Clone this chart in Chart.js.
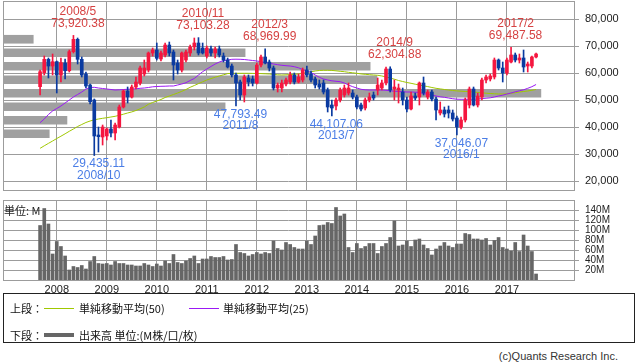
<!DOCTYPE html>
<html>
<head>
<meta charset="utf-8">
<script src="https://cdn.jsdelivr.net/npm/chart.js@4.4.1/dist/chart.umd.min.js"></script>
<style>
html,body{margin:0;padding:0;background:#fff;}
#wrap{position:relative;width:638px;height:362px;overflow:hidden;background:#fff;}
#c1{position:absolute;left:0;top:0;}
#c2{position:absolute;left:0;top:195px;}
.unit{position:absolute;left:4px;top:203px;font:11px "Noto Sans CJK JP",sans-serif;line-height:14px;color:#222;}
#legend{position:absolute;left:3px;top:293px;width:630px;height:48px;border:1px solid #222;font:11px "Noto Sans CJK JP",sans-serif;color:#111;}
#legend span{position:absolute;line-height:14px;white-space:nowrap;}
#legend i{position:absolute;display:block;}
.copy{position:absolute;right:20px;top:349px;font:11px "Liberation Sans",Arial,sans-serif;color:#333;line-height:14px;}
</style>
</head>
<body>
<div id="wrap">
  <canvas id="c1" width="638" height="195"></canvas>
  <canvas id="c2" width="638" height="100"></canvas>
  <div class="unit">単位: M</div>
  <div id="legend">
    <span style="left:6px;top:7px;">上段：</span>
    <i style="left:40px;top:14px;width:30px;height:1px;background:#a0c800;"></i>
    <span style="left:75px;top:7px;">単純移動平均(50)</span>
    <i style="left:185px;top:14px;width:30px;height:1px;background:#9b19f5;"></i>
    <span style="left:219px;top:7px;">単純移動平均(25)</span>
    <span style="left:6px;top:34px;">下段：</span>
    <i style="left:40px;top:39px;width:30px;height:4px;background:#666;"></i>
    <span style="left:75px;top:34px;">出来高 単位:(M株/口/枚)</span>
  </div>
  <div class="copy">(c)Quants Research Inc.</div>
</div>
<script>
// ---- categories: monthly candles 2007/9 .. 2017/8
const startYear = 2007, startMonth = 9, monthCount = 120;
const months = [];
for (let k = 0; k < monthCount; k++) {
  const t = startMonth - 1 + k;
  months.push((startYear + Math.floor(t / 12)) + '/' + (t % 12 + 1));
}

// ---- OHLC
const open = [
54930,60110,65070,62590,64190,59260,63700,60850,67890,72480,
65070,59630,55560,50000,37040,36300,36670,39260,37780,40000,
47410,53330,51110,54810,56300,59630,61110,67410,68520,65190,
66670,70370,67780,63700,61110,64810,67410,69630,71110,69260,
66300,68890,67410,68890,66300,64810,62590,59260,56670,51850,
58150,57780,56300,62960,65930,64070,61850,54440,54440,55930,
56670,59260,56670,57410,61110,59630,57780,55930,56300,53700,
48150,47780,50000,51850,52590,52590,51110,48150,47040,50000,
51850,53700,54440,56300,61480,54070,53700,52960,50000,46670,
51480,51110,56300,51110,52960,50370,45190,46300,46300,45190,
43330,40000,42590,48150,54070,48150,51110,57410,57780,58520,
64810,61850,60000,64070,66670,64810,65560,62590,62590,65930];
const high = [
61110,66300,65560,67040,64440,65560,65190,68520,73920.38,72960,
65930,60370,55930,50370,40000,40740,39630,42590,41480,48150,
53700,54810,55560,58520,62590,64810,67780,69260,71110,68150,
71110,71480,68520,64810,67780,68520,70370,72960,73103.28,71110,
70000,70000,69630,70000,67410,65560,63330,60000,57410,59260,
59260,58890,63700,66670,68969.99,64810,62590,56300,57410,58150,
60370,60000,59630,61850,62590,60740,58520,57410,57410,54440,
50000,50740,54440,55560,56300,53700,51850,48890,50740,52590,
52960,58150,57410,62220,62304.88,57410,55930,54440,51110,52960,
52590,56670,58520,53700,53700,51110,49260,47410,47780,46300,
44070,43700,50740,54810,54810,52590,58150,59260,59630,65560,
65190,64070,65560,69487.58,67410,67040,68520,64070,66300,67410];
const low = [
51850,59260,58150,59260,52590,56670,57780,60370,67410,63330,
58520,54440,48520,29435.11,30740,33330,35190,36300,35190,39630,
47040,48890,50740,54070,55560,58890,60370,66300,64810,64440,
65930,66300,57410,59630,60370,64070,66300,68520,66670,67040,
65560,66300,65560,65930,64070,61850,58520,47793.49,50000,49260,
55190,55190,55930,62220,63330,60740,53700,52960,52960,55190,
55930,55930,56300,56670,58520,56670,54440,54070,52220,45560,
44107.06,46300,49260,51110,51850,50370,46670,45930,46300,49260,
50000,51850,53700,55560,52960,50000,48890,48150,45560,46300,
50000,48150,51850,50370,49630,42590,44440,43700,43330,42220,
37046.07,39260,41850,47040,47780,47410,50000,56300,57040,57780,
61110,56670,59260,63700,64070,63700,60370,60370,61850,65560];
const close = [
60480,65070,62590,64190,59260,63810,60850,67890,72480,65070,
59260,55190,49370,36670,36410,40000,39260,37780,40740,47410,
53330,51110,54810,56670,61850,61850,67410,68520,65440,67410,
70370,67410,62960,61110,67410,67780,69630,71110,67410,67410,
69260,67410,68890,66670,64810,62220,59260,56300,51850,58520,
56670,56300,62960,65930,63700,61850,54440,55560,56300,57410,
59260,56670,58520,61110,59260,57410,55560,54810,52960,47410,
47040,50000,53700,54440,54440,51110,47410,46670,50000,51110,
50740,55560,56300,61480,53700,54810,54440,50000,46670,51480,
50740,56300,52590,52960,50370,46300,46300,44810,45190,42960,
40000,42590,50000,54070,48150,51480,57410,58520,58890,64810,
61850,60000,64810,66670,64810,65560,62220,63330,65930,67040];

// ---- moving averages
const ma25 = [
41590,42960,44630,45930,46850,47780,48890,50000,51110,52040,
52960,54070,54630,54700,54440,54260,54070,53890,53700,53780,
53890,53960,54070,54150,54330,54440,54630,54890,55000,55070,
55110,55190,55190,55560,55930,56410,57220,57960,59260,60480,
61480,62410,63330,64070,64560,64810,65070,65110,65070,64990,
64810,64630,64440,64190,63890,63630,63330,63070,62850,62700,
62590,62330,61930,61300,60810,60190,59260,58410,57780,57410,
57110,56930,56780,56300,55560,54930,54440,53960,53780,53700,
53700,53700,53700,53590,53410,53260,53150,53070,52960,52960,
52890,52780,52410,52040,51850,51480,51190,51000,50740,50480,
50300,50260,50260,50260,50300,50370,50520,50670,50810,51110,
51480,51780,52220,52590,53040,53410,53780,54330,54930,55740];
const ma50 = [
32110,33040,33930,34810,35740,36590,37480,38410,39260,40190,
40930,41670,42220,42670,42960,43220,43440,43700,43960,44330,
44740,45190,45590,46110,46740,47410,48440,49070,49630,50190,
50930,51480,52040,52590,53220,53890,54700,55370,56070,56740,
57410,57930,58440,58890,59330,59780,59890,59890,59890,59890,
59890,59850,59810,59780,59700,59630,59480,59330,59260,59330,
59410,59520,59630,59890,60150,60440,60740,60930,61000,61000,
60960,60810,60630,60480,60260,60070,59890,59670,59520,59370,
59260,59150,58890,58520,58150,57700,57220,56850,56480,56190,
55850,55560,55260,54960,54630,54330,54110,53890,53700,53520,
53370,53260,53150,53070,52960,52810,52670,52520,52410,52300,
52220,52220,52300,52480,52700,52960,53150,53330,53590,53890];

// ---- monthly volume, millions
const volume = [
109,143,112,52,77,67,48,20,27,25,
29,22,37,47,33,32,33,30,37,33,
33,30,30,28,28,33,30,27,32,28,
38,33,51,35,33,38,43,48,33,42,
42,47,45,45,47,40,41,71,55,53,
48,51,55,52,55,53,78,63,60,75,
71,65,62,62,78,71,88,109,110,115,
113,145,128,132,65,55,73,63,67,73,
73,53,67,73,85,118,68,70,78,67,
80,82,70,63,50,62,68,75,68,65,
72,72,93,91,82,82,80,83,70,79,
85,65,62,58,75,57,90,68,57,12];

// ---- price-band volume profile (relative volume per 5,000 band)
const profilePrice = [72500,67500,62500,57500,52500,47500,42500,37500];
const profileVolume = [53,424,643,655,942,389,112,81];

// ---- tick values
const priceTicks = [20000,30000,40000,50000,60000,70000,80000];
const volumeTicks = [20,40,60,80,100,120,140];

// ---- annotated highs and lows (indices into months)
const highMarks = [8,38,54,84,113];
const lowMarks = [13,47,70,100];

const RED = '#f5163f', BLUE = '#0a3aa0', GRID = '#9c9c9c';
const candleColors = open.map((o, i) => close[i] >= o ? RED : BLUE);
const janIdx = months.map((m, i) => m.endsWith('/1') ? i : -1).filter(i => i >= 0);

Chart.defaults.font.family = '"Liberation Sans", Arial, sans-serif';
Chart.defaults.animation = false;

const noPad = s => { s.paddingTop = 0; s.paddingBottom = 0; s.paddingLeft = 0; s.paddingRight = 0; };

const framePlugin = {
  id: 'frame',
  beforeDatasetsDraw(chart) {
    const a = chart.chartArea, ctx = chart.ctx;
    ctx.save();
    ctx.strokeStyle = GRID; ctx.lineWidth = 1;
    ctx.strokeRect(a.left + 0.5, a.top + 0.5, a.right - a.left, a.bottom - a.top);
    ctx.restore();
  }
};

const fmt = v => v.toLocaleString('en-US', {minimumFractionDigits: 2, maximumFractionDigits: 2});
const markPlugin = {
  id: 'marks',
  afterDatasetsDraw(chart) {
    const ctx = chart.ctx, xs = chart.scales.x, ys = chart.scales.y;
    ctx.save();
    ctx.font = '12px "Liberation Sans", Arial, sans-serif';
    ctx.textAlign = 'center'; ctx.textBaseline = 'middle';
    ctx.fillStyle = '#d64242';
    highMarks.forEach(i => {
      const px = xs.getPixelForValue(i) + 4.5;
      const py = ys.getPixelForValue(high[i]) - 12;
      ctx.fillText(fmt(high[i]), px, py);
      ctx.fillText(months[i], px, py - 11.6);
    });
    ctx.fillStyle = '#4a7de6';
    lowMarks.forEach(i => {
      const px = xs.getPixelForValue(i) + 4.5;
      const py = ys.getPixelForValue(low[i]) + 8.3;
      ctx.fillText(fmt(low[i]), px, py);
      ctx.fillText(months[i], px, py + 11.7);
    });
    ctx.restore();
  }
};

new Chart(document.getElementById('c1'), {
  data: {
    datasets: [
      {type: 'bar', indexAxis: 'y', xAxisID: 'xp', yAxisID: 'y', grouped: false,
       data: profilePrice.map((p, k) => ({y: p, x: profileVolume[k]})),
       backgroundColor: '#a0a0a0', barThickness: 8, order: 5},
      {type: 'line', xAxisID: 'x', yAxisID: 'y', data: ma50.map((v, i) => ({x: i, y: v})),
       borderColor: '#a0c800', borderWidth: 1, pointRadius: 0, tension: 0, order: 4},
      {type: 'line', xAxisID: 'x', yAxisID: 'y', data: ma25.map((v, i) => ({x: i, y: v})),
       borderColor: '#9b19f5', borderWidth: 1, pointRadius: 0, tension: 0, order: 3},
      {type: 'bar', xAxisID: 'x', yAxisID: 'y', grouped: false,
       data: high.map((h, i) => ({x: i, y: [low[i], h]})),
       backgroundColor: candleColors, barThickness: 1, order: 2},
      {type: 'bar', xAxisID: 'x', yAxisID: 'y', grouped: false,
       data: open.map((o, i) => ({x: i, y: [o, close[i]]})),
       backgroundColor: candleColors, barThickness: 3, order: 1}
    ]
  },
  options: {
    responsive: false, devicePixelRatio: 1, animation: false,
    layout: {padding: {left: 3, top: 1, right: 0, bottom: 5}},
    plugins: {legend: {display: false}, tooltip: {enabled: false}},
    scales: {
      x: {type: 'linear', axis: 'x', position: 'bottom', min: -8.9, max: 128.1, offset: false,
          afterBuildTicks: s => { s.ticks = janIdx.map(v => ({value: v})); },
          ticks: {display: false}, grid: {color: GRID, drawTicks: false, offset: false}, border: {display: false},
          afterFit: s => { s.height = 0; noPad(s); }},
      xp: {type: 'linear', axis: 'x', position: 'bottom', min: 0, max: 1000, display: false, offset: false,
           afterFit: s => { s.height = 0; noPad(s); }},
      y: {type: 'linear', axis: 'y', position: 'right', min: 16667, max: 86667, offset: false, beginAtZero: false,
          afterBuildTicks: s => { s.ticks = priceTicks.map(v => ({value: v})); },
          ticks: {autoSkip: false, callback: v => v.toLocaleString('en-US'), font: {size: 11}, color: '#222', padding: 6},
          grid: {color: GRID, tickLength: 5, offset: false}, border: {display: false},
          afterFit: s => { s.width = 64; noPad(s); }}
    }
  },
  plugins: [framePlugin, markPlugin]
});

new Chart(document.getElementById('c2'), {
  type: 'bar',
  data: {
    datasets: [{
      data: volume.map((v, i) => ({x: i, y: v})),
      backgroundColor: '#666666', barThickness: 3, grouped: false
    }]
  },
  options: {
    responsive: false, devicePixelRatio: 1, animation: false,
    layout: {padding: {left: 3, top: 5, right: 0, bottom: 0}},
    plugins: {legend: {display: false}, tooltip: {enabled: false}},
    scales: {
      x: {type: 'linear', min: -8.9, max: 128.1, offset: false,
          afterBuildTicks: s => { s.ticks = janIdx.map(v => ({value: v})); },
          ticks: {autoSkip: false, maxRotation: 0, callback: v => months[v].split('/')[0],
                  font: {size: 11}, color: '#222', padding: 3},
          grid: {color: GRID, drawTicks: false, offset: false}, border: {display: false},
          afterFit: s => { s.height = 15; noPad(s); }},
      y: {type: 'linear', position: 'right', min: 0, max: 160, offset: false,
          afterBuildTicks: s => { s.ticks = volumeTicks.map(v => ({value: v})); },
          ticks: {autoSkip: false, callback: v => v + 'M', font: {size: 10}, color: '#222', padding: 6},
          grid: {color: GRID, tickLength: 5}, border: {display: false},
          afterFit: s => { s.width = 64; noPad(s); }}
    }
  },
  plugins: [framePlugin]
});
</script>
</body>
</html>
